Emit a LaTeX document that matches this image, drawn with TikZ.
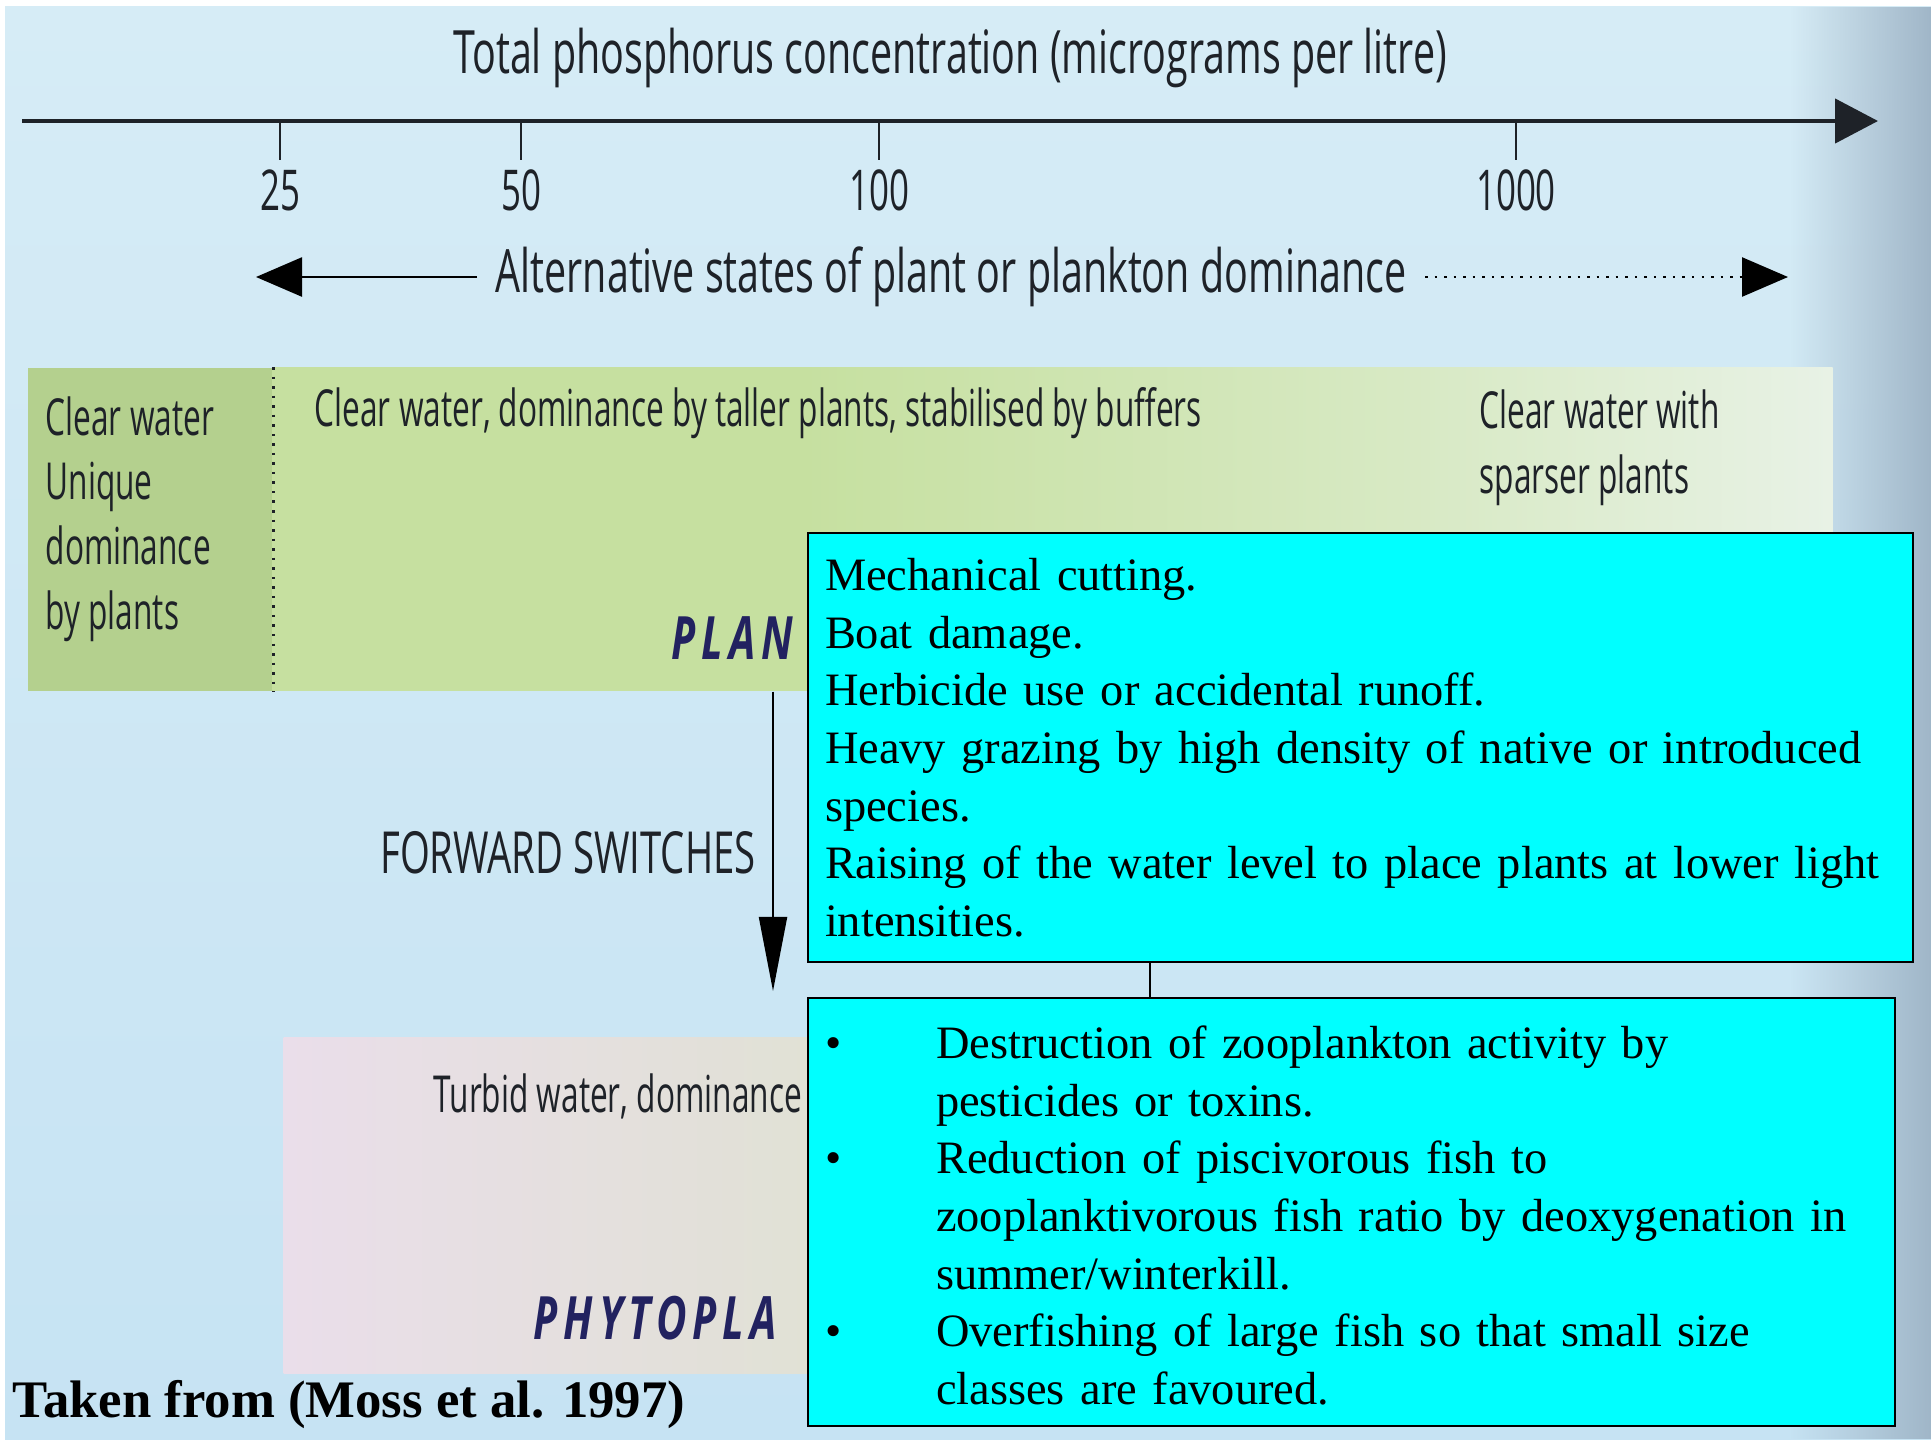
\documentclass[tikz,border=0pt]{standalone}
\usepackage{fontspec}
\setmainfont{Liberation Serif}
\newfontfamily\figsans[FakeStretch=0.62]{Open Sans}
\newfontfamily\figwide[FakeStretch=0.66]{Open Sans}
\newfontfamily\figstate[FakeStretch=0.7,LetterSpace=10]{Open Sans}
\newcommand\nohyph{\hyphenpenalty=10000\relax}
\usepackage{tikz}
\usetikzlibrary{arrows.meta,positioning,fadings}
\definecolor{bgblue}{RGB}{198,227,243}
\definecolor{bgtop}{RGB}{214,236,246}
\definecolor{bgedge}{RGB}{160,182,200}
\definecolor{plantL}{RGB}{180,208,142}
\definecolor{plantM}{RGB}{198,224,160}
\definecolor{plantR}{RGB}{238,245,242}
\definecolor{phytoL}{RGB}{234,222,234}
\definecolor{phytoR}{RGB}{224,225,212}
\definecolor{inkgrey}{RGB}{30,34,40}
\definecolor{navy}{RGB}{34,34,96}
\definecolor{boxcyan}{RGB}{0,255,255}
\pgfdeclarehorizontalshading{plantfade}{100bp}{color(0bp)=(plantM); color(42bp)=(plantM); color(62bp)=(plantM!55!plantR); color(80bp)=(plantR); color(100bp)=(plantR)}

\begin{document}
\begin{tikzpicture}[
  x=0.01cm,y=-0.01cm,
  big/.style={font=\figwide\fontsize{17}{20}\selectfont,text=inkgrey,inner sep=0pt},
  num/.style={font=\figsans\fontsize{16}{19}\selectfont,text=inkgrey,inner sep=0pt},
  lbl/.style={font=\figsans\fontsize{14.5}{18.4}\selectfont,text=inkgrey,inner sep=0pt,align=left,anchor=west},
  state/.style={font=\figstate\bfseries\itshape\fontsize{17}{20}\selectfont,text=navy,inner sep=0pt,anchor=west},
  band/.style={draw=none,inner sep=0pt,anchor=north west},
  infobox/.style={draw=black,line width=0.2mm,fill=boxcyan,anchor=north west,inner xsep=1.7mm,inner ysep=0pt,
    align=left,font=\fontsize{13.2}{16.4}\selectfont\nohyph},
  axisarr/.style={line width=0.45mm,draw=inkgrey,-{Triangle[length=4.3mm,width=4.4mm]}},
  altarr/.style={line width=0.25mm,draw=black,-{Triangle[length=4.6mm,width=3.9mm]}},
  fwdarr/.style={line width=0.2mm,draw=black,-{Triangle[length=7.4mm,width=2.8mm]}},
  tick/.style={line width=0.2mm,draw=inkgrey}
]
  \useasboundingbox (0,0) rectangle (1931,1439);
  % ---------------- background ----------------
  \fill[white] (0,0) rectangle (1931,1439);
  \shade[top color=bgtop,bottom color=bgblue] (5,6) rectangle (1931,1439);
  \fill[bgedge,path fading=west] (1790,6) rectangle (1931,1439);
  % ---------------- axis ----------------
  \node[big] (title) at (950,58) {Total phosphorus concentration (micrograms per litre)};
  \coordinate (axL) at (22,121);
  \coordinate (axR) at (1878,121);
  \draw[axisarr] (axL) -- (axR);
  \foreach \v/\x in {25/280,50/521,100/879,1000/1516}{
    \coordinate (tk\v) at (\x,121);
    \draw[tick] (tk\v) -- ++(0,39);
    \node[num] (lb\v) at (\x,190) {\v};}
  % ---------------- alternative states ----------------
  \node[big,inner xsep=1.8mm] (alt) at (951,277) {Alternative states of plant or plankton dominance};
  \coordinate (altL) at (256,277);
  \coordinate (altR) at (1788,277);
  \draw[altarr] (alt.west) -- (altL);
  \draw[altarr,dotted] (alt.east) -- (altR);
  % ---------------- plant band ----------------
  \node[band,fill=plantL,minimum width=2.45cm,minimum height=3.23cm] (uniq) at (27,367) {};
  \node[band,shading=plantfade,minimum width=15.59cm,minimum height=3.23cm] (plant) at (272,367) {};
  \draw[line width=0.25mm,dotted,inkgrey] (uniq.north east) -- (uniq.south east);
  \node[lbl] (uniqtxt) at (45,519) {Clear water\\Unique\\dominance\\by plants};
  \node[lbl] (planttxt) at (314,413) {Clear water, dominance by taller plants, stabilised by buffers};
  \node[lbl] (sparse) at (1479,448) {Clear water with\\sparser plants};
  \node[state] (plantname) at (671,638) {PLAN};
  % ---------------- forward switch ----------------
  \node[big,font=\figwide\fontsize{16.5}{20}\selectfont] (fwd) at (568,853) {FORWARD SWITCHES};
  \coordinate (fwdtip) at (773,991);
  \draw[fwdarr] (plant.south -| fwdtip) -- (fwdtip);
  % ---------------- phytoplankton band ----------------
  \node[band,left color=phytoL,right color=phytoR,minimum width=5.5cm,minimum height=3.36cm] (phyto) at (283,1037) {};
  \node[lbl] (turbid) at (433,1096) {Turbid water, dominance};
  \node[state] (phytoname) at (533,1318) {PHYTOPLA};
  % ---------------- switch boxes ----------------
  \node[infobox,text width=10.70cm,minimum height=4.29cm] (cutbox) at (807,532) {Mechanical cutting.\\
    Boat damage.\\
    Herbicide use or accidental runoff.\\
    Heavy grazing by high density of native or introduced\\
    species.\\
    Raising of the water level to place plants at lower light\\
    intensities.};
  \node[infobox,text width=10.52cm,minimum height=4.28cm] (fishbox) at (807,997) {%
    \vspace*{1.2mm}\par
    \begin{tabular}{@{}p{1.11cm}@{}l@{}}
    \textbullet & Destruction of zooplankton activity by\\
     & pesticides or toxins.\\
    \textbullet & Reduction of piscivorous fish to\\
     & zooplanktivorous fish ratio by deoxygenation in\\
     & summer/winterkill.\\
    \textbullet & Overfishing of large fish so that small size\\
     & classes are favoured.
    \end{tabular}};
  \coordinate (link) at (1150,961);
  \draw[line width=0.25mm] (link) -- (link |- fishbox.north);
  % ---------------- source ----------------
  \node[anchor=west,inner sep=0pt,font=\bfseries\fontsize{15}{18}\selectfont] (src) at (12,1405) {Taken from (Moss et al. 1997)};
\end{tikzpicture}
\end{document}
